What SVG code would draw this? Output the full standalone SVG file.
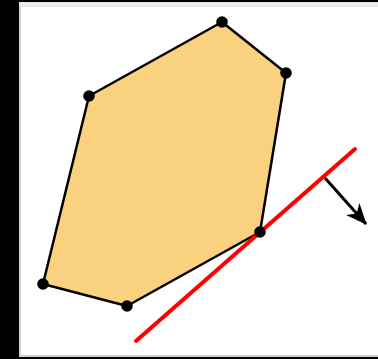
<svg xmlns="http://www.w3.org/2000/svg" width="378" height="359" viewBox="0 0 378 359">
<style>
.poly{fill:#fad17e;stroke:#000;stroke-width:2.5;stroke-linejoin:round}
.pt{fill:#000}
.tan{stroke:#f00;stroke-width:4;stroke-linecap:round;fill:none}
.arr{stroke:#000;stroke-width:3;fill:none}
</style>
<defs>
<marker id="ah" markerUnits="userSpaceOnUse" viewBox="0 0 21 18" markerWidth="21" markerHeight="18" refX="20" refY="9" orient="auto">
<path d="M0,0 L21,9 L0,18 L6,9 z" fill="#000"/>
</marker>
</defs>
<rect x="0" y="0" width="378" height="359" fill="#000"/>
<rect x="19" y="2" width="359" height="355" fill="#d4d4d8"/>
<rect x="19" y="2.5" width="359" height="3" fill="#f2f2f2"/>
<rect x="21" y="6.5" width="357" height="348.5" fill="#fff"/>
<g id="hull">
<polygon class="poly" points="222,22 286,73 260,232 127,306 43,284 89,96"/>
</g>
<g id="connectors">
<line class="tan" x1="136" y1="341" x2="355" y2="149"/>
<line class="arr" x1="325" y1="178" x2="366" y2="224" marker-end="url(#ah)"/>
</g>
<g id="vertices">
<circle class="pt" cx="222" cy="22" r="5.8"/>
<circle class="pt" cx="286" cy="73" r="5.8"/>
<circle class="pt" cx="89" cy="96" r="5.8"/>
<circle class="pt" cx="43" cy="284" r="5.8"/>
<circle class="pt" cx="127" cy="306" r="5.8"/>
<circle class="pt" cx="260" cy="232" r="5.8"/>
</g>
</svg>
